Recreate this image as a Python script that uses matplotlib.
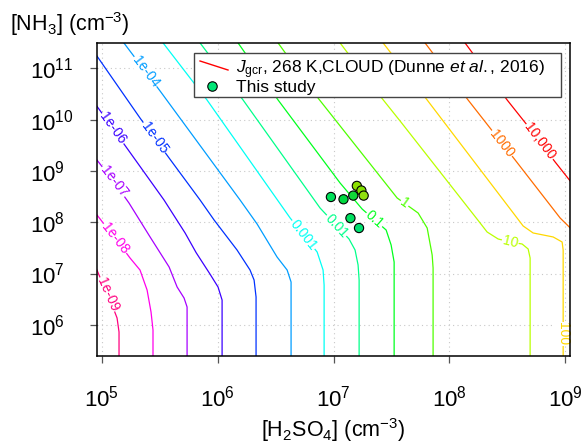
import numpy as np
import matplotlib.pyplot as plt
from matplotlib.colors import hsv_to_rgb
from matplotlib.patches import Rectangle
from matplotlib.lines import Line2D

plt.rcParams['font.family'] = ['Liberation Sans', 'DejaVu Sans']
plt.rcParams['mathtext.fontset'] = 'custom'
plt.rcParams['mathtext.rm'] = 'Liberation Sans'
plt.rcParams['mathtext.it'] = 'Liberation Sans:italic'
plt.rcParams['mathtext.bf'] = 'Liberation Sans:bold'

# J_gcr contour levels (cm-3 s-1), 268 K, CLOUD parameterisation
levels = [1e-9, 1e-8, 1e-7, 1e-6, 1e-5, 1e-4, 1e-3, 1e-2, 1e-1, 1, 10, 100, 1000, 10000]
level_labels = ['1e-09', '1e-08', '1e-07', '1e-06', '1e-05', '1e-04', '0.001',
                '0.01', '0.1', '1', '10', '100', '1000', '10,000']

# contour paths, log10 of concentration (cm-3)
h2so4_log = [
    [5.150, 5.150, 5.133, 5.090, 5.021, 4.950],
    [5.443, 5.443, 5.426, 5.392, 5.331, 5.245, 5.142, 5.047, 4.950],
    [5.737, 5.737, 5.711, 5.651, 5.582, 5.418, 5.236, 5.107, 4.950],
    [6.039, 6.039, 6.004, 5.935, 5.815, 5.720, 5.538, 5.236, 4.950],
    [4.950, 5.331, 5.582, 5.849, 5.970, 6.168, 6.280, 6.315, 6.332, 6.332],
    [5.190, 5.504, 6.194, 6.341, 6.513, 6.600, 6.634, 6.634],
    [5.528, 5.909, 6.626, 6.859, 6.910, 6.919, 6.919],
    [5.847, 6.220, 6.884, 7.134, 7.186, 7.212, 7.221, 7.221],
    [6.175, 6.522, 7.057, 7.247, 7.454, 7.497, 7.523, 7.523],
    [6.520, 6.867, 7.549, 7.730, 7.808, 7.851, 7.859, 7.859],
    [7.055, 7.402, 7.575, 8.265, 8.325, 8.420, 8.524, 8.627, 8.679, 8.696, 8.696],
    [7.426, 7.808, 8.636, 8.722, 8.895, 8.972, 8.981, 8.981],
    [7.788, 8.161, 8.351, 8.567, 8.955, 9.050],
    [8.133, 8.498, 8.670, 8.912, 9.050],
]
nh3_log = [
    [5.38, 5.860, 6.133, 6.386, 6.737, 7.120],
    [5.38, 5.899, 6.250, 6.678, 7.068, 7.302, 7.614, 7.887, 8.170],
    [5.38, 6.347, 6.522, 6.737, 7.127, 7.712, 8.374, 8.784, 9.240],
    [5.38, 6.483, 6.737, 6.988, 7.407, 7.790, 8.433, 9.388, 10.290],
    [11.27, 10.031, 9.251, 8.433, 8.043, 7.458, 7.068, 6.873, 6.542, 5.38],
    [11.50, 10.558, 8.433, 7.965, 7.322, 7.068, 6.834, 5.38],
    [11.50, 10.382, 8.082, 7.419, 7.068, 6.776, 5.38],
    [11.50, 10.382, 8.277, 7.673, 7.458, 7.166, 6.873, 5.38],
    [11.50, 10.382, 8.764, 8.257, 7.848, 7.556, 7.224, 5.38],
    [11.50, 10.419, 8.472, 8.179, 7.887, 7.361, 7.108, 5.38],
    [11.50, 10.460, 9.971, 7.984, 7.809, 7.673, 7.614, 7.575, 7.478, 7.302, 5.38],
    [11.50, 10.382, 7.926, 7.790, 7.712, 7.614, 7.458, 5.38],
    [11.50, 10.382, 9.834, 9.212, 8.082, 7.870],
    [11.50, 10.382, 9.893, 9.173, 8.780],
]

# this study
study_h2so4 = [9.5e6, 1.22e7, 1.48e7, 1.59e7, 1.74e7, 1.82e7, 1.40e7, 1.66e7]
study_nh3 = [3.1e8, 2.8e8, 3.3e8, 5.1e8, 4.15e8, 3.3e8, 1.2e8, 7.7e7]

x_ticks = [1e5, 1e6, 1e7, 1e8, 1e9]
y_ticks = [1e6, 1e7, 1e8, 1e9, 1e10, 1e11]

# ---- styling ----
hues = np.linspace(0.917, 0.0, len(levels))
line_colors = [hsv_to_rgb((h, 1, 1)) for h in hues]
point_colors = ['#00e05a', '#00d840', '#10d838', '#8ce000', '#80e000', '#90e010',
                '#00e060', '#00e070']
# where the labels sit (log10 h2so4, log10 nh3)
label_at = [(5.038, 6.581), (5.098, 7.653), (5.098, 8.784), (5.090, 9.817),
            (5.461, 9.661), (5.374, 10.928), (6.738, 7.751), (7.023, 7.926),
            (7.342, 8.023), (7.609, 8.355), (8.524, 7.614), (8.972, 5.821),
            (8.446, 9.524), (8.774, 9.563)]

fig = plt.figure(figsize=(5.86, 4.46), dpi=100)
ax = fig.add_axes([97 / 586, 90 / 446, 473 / 586, 313 / 446])
ax.set_xscale('log')
ax.set_yscale('log')
ax.set_xlim(10 ** 4.96, 10 ** 9.04)
ax.set_ylim(10 ** 5.392, 10 ** 11.493)

ax.set_xticks(x_ticks)
ax.set_xticklabels([r'$10^{%d}$' % np.log10(t) for t in x_ticks])
ax.set_yticks(y_ticks)
ax.set_yticklabels([r'$10^{%d}$' % np.log10(t) for t in y_ticks])
ax.minorticks_off()
ax.tick_params(axis='both', direction='out', length=5, width=0.9, color='#555555',
               labelsize=16)
ax.tick_params(axis='x', pad=16)
ax.tick_params(axis='y', pad=43)
for lbl in ax.get_yticklabels():
    lbl.set_ha('left')
ax.grid(True, which='major', linestyle=(0, (1, 3)), color='#c8c8c8', linewidth=0.8)
ax.set_axisbelow(True)
for sp in ax.spines.values():
    sp.set_linewidth(1.1)
    sp.set_zorder(6)

fig.canvas.draw()


def place_label(xs, ys, near, text, color):
    pts = ax.transData.transform(np.column_stack([xs, ys]))
    target = ax.transData.transform([near])[0]
    best = None
    for i in range(len(pts) - 1):
        a, b = pts[i], pts[i + 1]
        ab = b - a
        t = np.clip(np.dot(target - a, ab) / np.dot(ab, ab), 0, 1)
        p = a + t * ab
        d = np.hypot(*(p - target))
        if best is None or d < best[0]:
            best = (d, p, ab)
    _, p, ab = best
    ang = np.degrees(np.arctan2(ab[1], ab[0]))
    if ang >= 90:
        ang -= 180
    if ang < -90:
        ang += 180
    x, y = ax.transData.inverted().transform(p)
    ax.text(x, y, text, rotation=ang, rotation_mode='anchor', ha='center',
            va='center', color=color, fontsize=10, zorder=3,
            bbox=dict(facecolor='white', edgecolor='none', pad=0.6))


for i, lev in enumerate(levels):
    xs = 10 ** np.array(h2so4_log[i])
    ys = 10 ** np.array(nh3_log[i])
    ax.plot(xs, ys, color=line_colors[i], linewidth=0.9, zorder=2)
    lx, ly = label_at[i]
    place_label(xs, ys, (10 ** lx, 10 ** ly), level_labels[i], line_colors[i])

ax.scatter(study_h2so4, study_nh3, s=44, c=point_colors, edgecolors='black',
           linewidths=0.8, zorder=5)

# legend box, drawn by hand
ax.add_patch(Rectangle((0.205, 0.8275), 0.776, 0.1406, transform=ax.transAxes,
                       facecolor='white', edgecolor='#444444', linewidth=1.0,
                       zorder=7))
ax.add_line(Line2D([0.2178, 0.2770], [0.9425, 0.9137], transform=ax.transAxes,
                   color='red', linewidth=1.0, zorder=8))
ax.add_line(Line2D([0.2425], [0.8636], transform=ax.transAxes, marker='o',
                   markersize=6.8, markerfacecolor='#00e676',
                   markeredgecolor='black', markeredgewidth=0.8, zorder=8))
ax.text(0.2939, 0.904, r'$J_{\rm gcr}$, 268 K,CLOUD (Dunne $et\ al.$, 2016)',
        transform=ax.transAxes, fontsize=12.5, va='baseline', ha='left', zorder=8)
ax.text(0.2939, 0.8444, 'This study', transform=ax.transAxes, fontsize=12.5,
        va='baseline', ha='left', zorder=8)

fig.text(10 / 586, 1 - 31 / 446, r'[NH$_3$] (cm$^{-3}$)', fontsize=15.5,
         va='baseline', ha='left')
fig.text(333.5 / 586, 1 - 437 / 446, r'[H$_2$SO$_4$] (cm$^{-3}$)', fontsize=15.5,
         va='baseline', ha='center')

fig.savefig('out.png', dpi=100)
